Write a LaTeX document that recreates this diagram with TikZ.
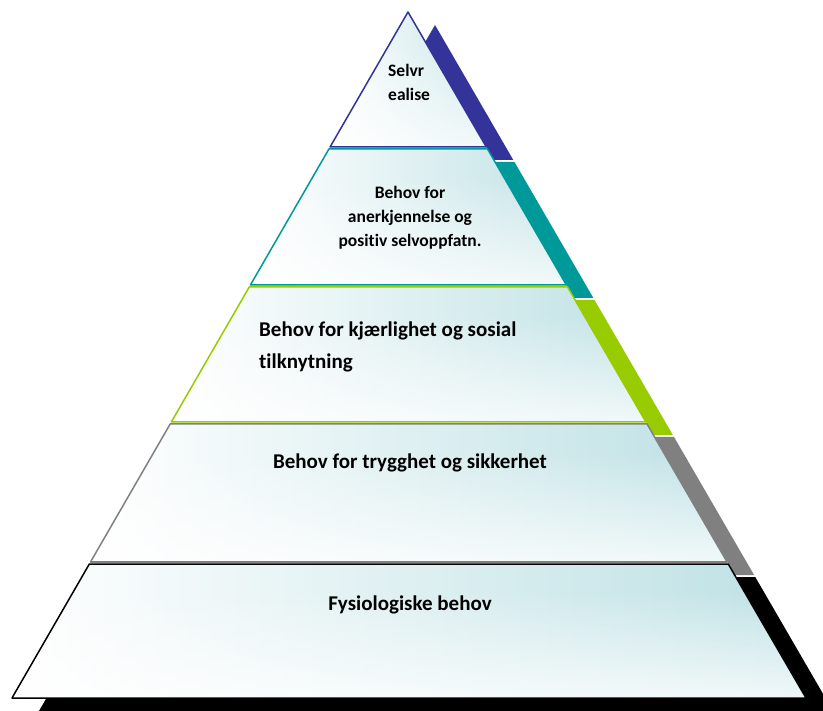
\documentclass[tikz,border=0pt]{standalone}
\usepackage{fontspec}
\setmainfont{Carlito}[Ligatures=NoCommon]
\usetikzlibrary{positioning,fadings}

\definecolor{tierblue}{RGB}{51,51,153}
\definecolor{tierteal}{RGB}{0,153,153}
\definecolor{tiergreen}{RGB}{153,204,0}
\definecolor{tiergray}{RGB}{128,128,128}
\definecolor{tierblack}{RGB}{0,0,0}
\definecolor{tint}{RGB}{186,223,227}

\tikzfading[name=tofoot, top color=transparent!100, bottom color=transparent!0]

\begin{document}
\begin{tikzpicture}[x=1pt, y=-1pt,
	declare function={xl(\y)=408-(\y-12)/686*396; xr(\y)=408+(\y-12)/686*398;},
	tiertext/.style={font=\bfseries\fontsize{21}{32}\selectfont, inner sep=0pt},
	tiersmall/.style={font=\bfseries\fontsize{17.5}{24}\selectfont, inner sep=0pt}]

		\useasboundingbox (0,0) rectangle (823,711);

		\def\sx{27} \def\sy{13} % shadow offset
		\def\tiers{12/147/tierblue, 149/285/tierteal, 287/422/tiergreen, 424/562/tiergray, 564/698/tierblack}

		% Shadows of the tiers
		\begin{scope}
			\clip (0,0) rectangle (823,711);
			\foreach \ytop/\ybot/\col in \tiers {
				\pgfmathsetmacro{\xtl}{xl(\ytop)}
				\pgfmathsetmacro{\xtr}{xr(\ytop)}
				\pgfmathsetmacro{\xbl}{xl(\ybot)}
				\pgfmathsetmacro{\xbr}{xr(\ybot)}
				\fill[\col, shift={(\sx,\sy)}] (\xtl,\ytop) -- (\xtr,\ytop) -- (\xbr,\ybot) -- (\xbl,\ybot) -- cycle;
			}
		\end{scope}

		% White body of the pyramid
		\fill[white] (408,12) -- (806,698) -- (12,698) -- cycle;

		% Tiers: shaded fill and coloured outline
		\foreach \ytop/\ybot/\col in \tiers {
			\pgfmathsetmacro{\xtl}{xl(\ytop)}
			\pgfmathsetmacro{\xtr}{xr(\ytop)}
			\pgfmathsetmacro{\xbl}{xl(\ybot)}
			\pgfmathsetmacro{\xbr}{xr(\ybot)}
			\pgfmathsetmacro{\yfade}{\ytop+0.2*(\ybot-\ytop)}
			\begin{scope}
				\clip (\xtl,\ytop) -- (\xtr,\ytop) -- (\xbr,\ybot) -- (\xbl,\ybot) -- cycle;
				\shade[left color=white, right color=tint] (\xbl,\ytop) rectangle (\xbr+40,\ybot);
				\fill[white, path fading=tofoot] (\xbl,\yfade) rectangle (\xbr,\ybot+30);
			\end{scope}
			\draw[\col, line width=1.5pt, line join=round] (\xtl,\ytop) -- (\xtr,\ytop) -- (\xbr,\ybot) -- (\xbl,\ybot) -- cycle;
		}

		% Labels
		\node[tiersmall, align=left, anchor=base west] (selvr) at (388,101) {Selvr\\ealise};
		\node[tiersmall, align=center, anchor=base] (anerkj) at (410,247) {Behov for\\anerkjennelse og\\positiv selvoppfatn.};
		\node[tiertext, align=left, anchor=base west] (kjaerl) at (259,369) {Behov for kjærlighet og sosial\\tilknytning};
		\node[tiertext, anchor=base] (trygg) at (410,469) {Behov for trygghet og sikkerhet};
		\node[tiertext, anchor=base] (fysio) at (410,610) {Fysiologiske behov};

	\end{tikzpicture}
\end{document}
